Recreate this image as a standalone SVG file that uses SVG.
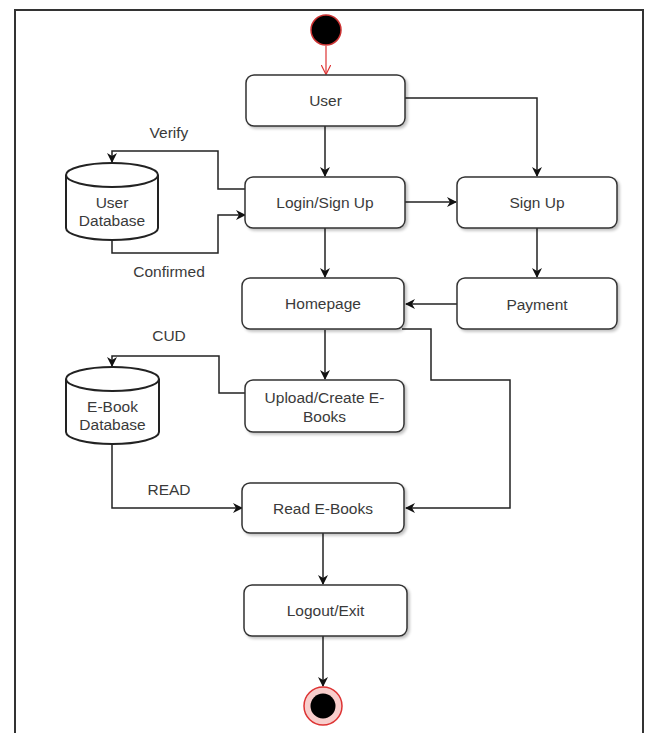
<svg xmlns="http://www.w3.org/2000/svg" width="650" height="733" viewBox="0 0 650 733">
<style>
.box{fill:#fff;stroke:#333;stroke-width:1.5;filter:url(#sh)}
.cyl{fill:#fff;stroke:#222;stroke-width:2}
.t{font-family:"Liberation Sans",Arial,sans-serif;font-size:15.5px;fill:#3a3a3a;text-anchor:middle;dominant-baseline:central}
.e{fill:none;stroke:#222;stroke-width:1.5}
</style>
<defs>
<filter id="sh" x="-10%" y="-10%" width="130%" height="140%">
<feGaussianBlur in="SourceAlpha" stdDeviation="1.5"/>
<feOffset dx="2" dy="2" result="b"/>
<feComponentTransfer><feFuncA type="linear" slope="0.25"/></feComponentTransfer>
<feMerge><feMergeNode/><feMergeNode in="SourceGraphic"/></feMerge>
</filter>
<marker id="a" viewBox="0 0 10 10" refX="9" refY="5" markerWidth="10" markerHeight="10" markerUnits="userSpaceOnUse" orient="auto">
<path d="M0,0 L10,5 L0,10 L3,5 Z" fill="#111"/>
</marker>
<marker id="ar" viewBox="0 0 10 10" refX="9.5" refY="5" markerWidth="10" markerHeight="10" markerUnits="userSpaceOnUse" orient="auto">
<path d="M0,0 L10,5 L0,10" fill="none" stroke="#d33" stroke-width="1.2"/>
</marker>
</defs>
<rect x="0" y="0" width="650" height="733" fill="#fff"/>
<path d="M15,733 V10 H643 V733" fill="none" stroke="#333" stroke-width="2"/>

<g id="connectors">
<line x1="326" y1="46" x2="326" y2="74" stroke="#d33" stroke-width="1.2" marker-end="url(#ar)"/>
<path class="e" d="M325,126 V176" marker-end="url(#a)"/>
<path class="e" d="M405,98 H537 V176" marker-end="url(#a)"/>
<path class="e" d="M405,202 H456" marker-end="url(#a)"/>
<path class="e" d="M246,189 H218 V151 H112 V162" marker-end="url(#a)"/>
<path class="e" d="M112,240 V253 H218 V215 H245" marker-end="url(#a)"/>
<path class="e" d="M325,228 V277" marker-end="url(#a)"/>
<path class="e" d="M537,228 V277" marker-end="url(#a)"/>
<path class="e" d="M457,304 H406" marker-end="url(#a)"/>
<path class="e" d="M325,330 V379" marker-end="url(#a)"/>
<path class="e" d="M245,393 H219 V356 H112 V366" marker-end="url(#a)"/>
<path class="e" d="M402,329 H431 V380 H510 V508 H406" marker-end="url(#a)"/>
<path class="e" d="M112,444 V508 H242" marker-end="url(#a)"/>
<path class="e" d="M323,533 V584" marker-end="url(#a)"/>
<path class="e" d="M323,636 V686" marker-end="url(#a)"/>
<text class="t" x="169" y="132">Verify</text>
<text class="t" x="169" y="271">Confirmed</text>
<text class="t" x="169" y="335">CUD</text>
<text class="t" x="169" y="489">READ</text>
</g>

<g id="start"><circle cx="326" cy="30" r="15" fill="#000" stroke="#c33" stroke-width="1.5"/></g>

<g id="user"><rect class="box" x="246" y="75" width="159" height="51" rx="8"/><text class="t" x="325.5" y="100">User</text></g>
<g id="login"><rect class="box" x="245" y="177" width="160" height="51" rx="8"/><text class="t" x="325" y="202">Login/Sign Up</text></g>
<g id="signup"><rect class="box" x="457" y="177" width="160" height="51" rx="8"/><text class="t" x="537" y="202">Sign Up</text></g>
<g id="homepage"><rect class="box" x="242" y="278" width="162" height="51" rx="8"/><text class="t" x="323" y="303">Homepage</text></g>
<g id="payment"><rect class="box" x="457" y="278" width="160" height="51" rx="8"/><text class="t" x="537" y="304">Payment</text></g>
<g id="upload"><rect class="box" x="245" y="380" width="159" height="52" rx="8"/><text class="t" x="324.5" y="397">Upload/Create E-</text><text class="t" x="324.5" y="416">Books</text></g>
<g id="read"><rect class="box" x="242" y="483" width="162" height="50" rx="8"/><text class="t" x="323" y="508">Read E-Books</text></g>
<g id="logout"><rect class="box" x="244" y="585" width="163" height="51" rx="8"/><text class="t" x="325.5" y="610">Logout/Exit</text></g>

<g id="userdb">
<path class="cyl" d="M66,175 A46,12 0 0,1 158,175 V228 A46,12 0 0,1 66,228 Z"/>
<path class="e" style="stroke-width:2" d="M66,175 A46,12 0 0,0 158,175"/>
<text class="t" x="112" y="202">User</text><text class="t" x="112" y="220">Database</text>
</g>
<g id="ebookdb">
<path class="cyl" d="M66,379 A46.5,12 0 0,1 159,379 V432 A46.5,12 0 0,1 66,432 Z"/>
<path class="e" style="stroke-width:2" d="M66,379 A46.5,12 0 0,0 159,379"/>
<text class="t" x="112.5" y="406">E-Book</text><text class="t" x="112.5" y="424">Database</text>
</g>

<g id="end">
<circle cx="323" cy="706" r="19" fill="#f8cecc" stroke="#d33" stroke-width="1.5"/>
<circle cx="323" cy="706" r="12.5" fill="#000"/>
</g>
</svg>
